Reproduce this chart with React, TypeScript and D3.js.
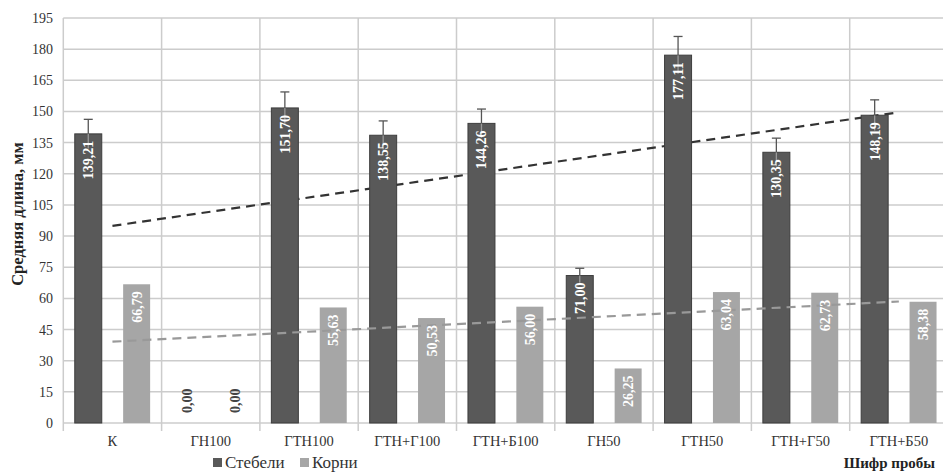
import React from "react";
import * as d3 from "d3";

// Samples (x categories)
const categories = ["К", "ГН100", "ГТН100", "ГТН+Г100", "ГТН+Б100", "ГН50", "ГТН50", "ГТН+Г50", "ГТН+Б50"];
// Mean stem length, mm
const stems = [139.21, 0, 151.7, 138.55, 144.26, 71.0, 177.11, 130.35, 148.19];
// Stem error (± mm)
const stemErrors = [7.0, 0, 7.7, 6.9, 6.9, 3.5, 9.0, 6.8, 7.4];
// Mean root length, mm
const roots = [66.79, 0, 55.63, 50.53, 56.0, 26.25, 63.04, 62.73, 58.38];
const seriesNames = ["Стебели", "Корни"];
const yTicks = [0, 15, 30, 45, 60, 75, 90, 105, 120, 135, 150, 165, 180, 195];

const W = 943;
const H = 474;
const FONT = "'Liberation Serif', 'DejaVu Serif', serif";
const DARK = "#595959";
const LIGHT = "#a6a6a6";

// Least-squares linear trend over category index 1..n
function linearTrend(vals: number[]) {
  const n = vals.length;
  const xs = vals.map((_, i) => i + 1);
  const mx = d3.mean(xs)!;
  const my = d3.mean(vals)!;
  const num = d3.sum(xs.map((x, i) => (x - mx) * (vals[i] - my)));
  const den = d3.sum(xs.map((x) => (x - mx) ** 2));
  const slope = num / den;
  const icpt = my - slope * mx;
  return [1, n].map((x) => ({ i: x - 1, v: icpt + slope * x }));
}

const fmt = (v: number) => v.toFixed(2).replace(".", ",");

export default function App() {
  const x = d3.scaleBand<string>().domain(categories).range([63.3, 948]).padding(0);
  const inner = d3
    .scaleBand<number>()
    .domain([0, 1])
    .range([0, x.bandwidth()])
    .paddingInner(0.442)
    .paddingOuter(0.237);
  const y = d3.scaleLinear().domain([0, 195]).range([423, 18]);
  const bw = inner.bandwidth();

  const series = [stems, roots];
  const colors = [DARK, LIGHT];
  const cx = (i: number) => x(categories[i])! + x.bandwidth() / 2;

  const trendLine = d3
    .line<{ i: number; v: number }>()
    .x((d) => cx(d.i))
    .y((d) => y(d.v));

  const stemTrend = linearTrend(stems);
  const rootTrend = linearTrend(roots);

  const gridXs = categories.map((c) => x(c)!);

  return (
    <svg
      width={W}
      height={H}
      style={{ position: "absolute", left: 0, top: 0, background: "#fff" }}
      fontFamily={FONT}
    >
      <rect width={W} height={H} fill="#fff" />
      {/* gridlines */}
      {yTicks.map((t) => (
        <line key={"gy" + t} x1={63.3} x2={W} y1={y(t)} y2={y(t)} stroke="#cccccc" strokeWidth={1.5} />
      ))}
      {gridXs.map((gx, i) => (
        <line key={"gx" + i} x1={gx} x2={gx} y1={y(195)} y2={y(0) + 8} stroke="#cccccc" strokeWidth={1.5} />
      ))}
      {/* y tick labels */}
      {yTicks.map((t) => (
        <text key={"yt" + t} x={53} y={y(t) + 5} textAnchor="end" fontSize={14} fill="#333" fontFamily={FONT}>
          {t}
        </text>
      ))}
      {/* x labels */}
      {categories.map((c, i) => (
        <text key={"xl" + c} x={cx(i)} y={446} textAnchor="middle" fontSize={14.5} fill="#333" fontFamily={FONT}>
          {c}
        </text>
      ))}

      {/* stem trend sits behind bars */}
      <path d={trendLine(stemTrend)!} fill="none" stroke="#333" strokeWidth={2.2} strokeDasharray="9,6" />

      {/* bars */}
      {series.map((vals, s) =>
        vals.map((v, i) => {
          const bx = x(categories[i])! + inner(s)!;
          return (
            <rect
              key={`b${s}-${i}`}
              x={bx}
              y={y(v)}
              width={bw}
              height={y(0) - y(v)}
              fill={colors[s]}
              stroke={s === 0 ? "#3d3d3d" : "none"}
              strokeWidth={1}
            />
          );
        })
      )}

      {/* error bars on stems */}
      {stems.map((v, i) => {
        if (v === 0) return null;
        const ex = x(categories[i])! + inner(0)! + bw / 2;
        const hi = y(v + stemErrors[i]);
        const lo = y(v - stemErrors[i]);
        return (
          <g key={"e" + i}>
            <line x1={ex} x2={ex} y1={y(v)} y2={lo} stroke="#9a9a9a" strokeWidth={1.3} />
            <line x1={ex} x2={ex} y1={hi} y2={y(v)} stroke="#555" strokeWidth={1.3} />
            <line x1={ex - 4.5} x2={ex + 4.5} y1={hi} y2={hi} stroke="#555" strokeWidth={1.3} />
          </g>
        );
      })}

      {/* root trend drawn over bars */}
      <path d={trendLine(rootTrend)!} fill="none" stroke="#999" strokeWidth={2.2} strokeDasharray="9,6" />

      {/* value labels */}
      {series.map((vals, s) =>
        vals.map((v, i) => {
          const lx = x(categories[i])! + inner(s)! + bw / 2;
          if (v === 0) {
            return (
              <text
                key={`l${s}-${i}`}
                transform={`translate(${lx + 5},${y(0) - 10}) rotate(-90)`}
                textAnchor="start"
                fontSize={14}
                fontWeight="bold"
                fill="#444"
                fontFamily={FONT}
              >
                {fmt(v)}
              </text>
            );
          }
          return (
            <text
              key={`l${s}-${i}`}
              transform={`translate(${lx + 5},${y(v) + 7}) rotate(-90)`}
              textAnchor="end"
              fontSize={14}
              fontWeight="bold"
              fill="#fff"
              fontFamily={FONT}
            >
              {fmt(v)}
            </text>
          );
        })
      )}

      {/* y axis title */}
      <text
        transform={`translate(23,${214}) rotate(-90)`}
        textAnchor="middle"
        fontSize={16.5}
        fontWeight="bold"
        fill="#222"
        fontFamily={FONT}
      >
        Средняя длина, мм
      </text>

      {/* legend */}
      <g fontFamily={FONT}>
        <rect x={213} y={458} width={9} height={9} fill={DARK} />
        <text x={225} y={468} fontSize={17} fill="#333">
          {seriesNames[0]}
        </text>
        <rect x={300} y={458} width={9} height={9} fill={LIGHT} />
        <text x={312} y={468} fontSize={17} fill="#333">
          {seriesNames[1]}
        </text>
      </g>

      {/* x axis title */}
      <text x={935} y={468} textAnchor="end" fontSize={15} fontWeight="bold" fill="#222" fontFamily={FONT}>
        Шифр пробы
      </text>
    </svg>
  );
}
